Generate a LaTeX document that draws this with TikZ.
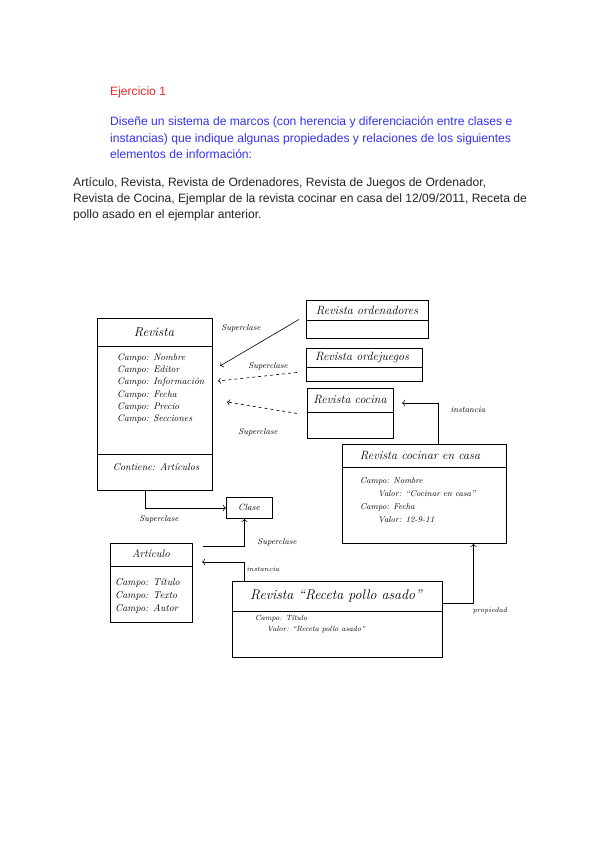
\documentclass[tikz,border=0pt]{standalone}
\usepackage{fontspec}
\newfontfamily\arialfont{Liberation Sans}
\usetikzlibrary{arrows.meta}
\definecolor{ejred}{RGB}{235,40,40}
\definecolor{ejblue}{RGB}{50,50,240}
\definecolor{ejtext}{RGB}{35,35,35}

\tikzset{
  ej/.style={font=\arialfont\fontsize{12.1}{16.2}\selectfont, inner sep=0pt},
  frame/.style={draw, line width=0.9pt, anchor=north west, inner sep=0pt},
  hw/.style 2 args={font=\itshape\fontsize{#1}{#2}\selectfont, inner sep=0pt},
  lbl/.style={font=\itshape\fontsize{8.5}{10}\selectfont, inner sep=0pt},
  conn/.style={->, line width=0.6pt},
}

\begin{document}
\begin{tikzpicture}[x=1pt,y=-1pt]
\useasboundingbox (0,0) rectangle (600,848);
% enunciado
\node[ej, text=ejred, anchor=base west] (ejercicio) at (110,95.7) {Ejercicio 1};
\node[ej, text=ejblue, anchor=north west, align=left] (enunciado) at (110,116.8)
  {Diseñe un sistema de marcos (con herencia y diferenciación entre clases e\\
   instancias) que indique algunas propiedades y relaciones de los siguientes\\
   elementos de información:};
\node[ej, text=ejtext, anchor=north west, align=left] (elementos) at (73,177.3)
  {Artículo, Revista, Revista de Ordenadores, Revista de Juegos de Ordenador,\\
   Revista de Cocina, Ejemplar de la revista cocinar en casa del 12/09/2011, Receta de\\
   pollo asado en el ejemplar anterior.};

% marcos
\node[frame, minimum width=115pt, minimum height=172pt] (revista) at (97,318) {};
\draw[line width=0.9pt] ([yshift=-28pt]revista.north west) -- ([yshift=-28pt]revista.north east);
\draw[line width=0.9pt] ([yshift=-136pt]revista.north west) -- ([yshift=-136pt]revista.north east);
\node[hw={13}{15}] (revista-t) at (154,332) {Revista};
\node[hw={9.5}{12.2}, anchor=north west, align=left] (revista-c) at (117,353.5)
  {Campo: Nombre\\Campo: Editor\\Campo: Información\\Campo: Fecha\\Campo: Precio\\Campo: Secciones};
\node[hw={10}{12}] (revista-a) at (156,467) {Contiene: Artículos};

\node[frame, minimum width=122pt, minimum height=38pt] (ord) at (306,300) {};
\draw[line width=0.9pt] ([yshift=-20pt]ord.north west) -- ([yshift=-20pt]ord.north east);
\node[hw={12}{14}] (ord-t) at (367,310.5) {Revista ordenadores};

\node[frame, minimum width=116pt, minimum height=33pt] (juegos) at (306,348) {};
\draw[line width=0.5pt] ([yshift=-19pt]juegos.north west) -- ([yshift=-19pt]juegos.north east);
\node[hw={12}{14}] (juegos-t) at (362,357.5) {Revista ordejuegos};

\node[frame, minimum width=86pt, minimum height=50pt] (cocina) at (307,388) {};
\draw[line width=0.9pt] ([yshift=-24pt]cocina.north west) -- ([yshift=-24pt]cocina.north east);
\node[hw={12}{14}] (cocina-t) at (350,400) {Revista cocina};

\node[frame, minimum width=164pt, minimum height=99pt] (casa) at (342,444) {};
\draw[line width=0.9pt] ([yshift=-23pt]casa.north west) -- ([yshift=-23pt]casa.north east);
\node[hw={12}{14}] (casa-t) at (420,456) {Revista cocinar en casa};
\node[hw={8.5}{13}, anchor=north west, align=left] (casa-c) at (360,477)
  {Campo: Nombre\\\hspace*{18pt}Valor: ``Cocinar en casa''\\Campo: Fecha\\\hspace*{18pt}Valor: 12-9-11};

\node[frame, minimum width=46pt, minimum height=21pt] (clase) at (226,497) {};
\node[hw={9}{11}] (clase-t) at (249,507.5) {Clase};

\node[frame, minimum width=82pt, minimum height=79pt] (articulo) at (110,543) {};
\draw[line width=0.9pt] ([yshift=-23pt]articulo.north west) -- ([yshift=-23pt]articulo.north east);
\node[hw={11}{13}] (articulo-t) at (151,554) {Artículo};
\node[hw={10}{13}, anchor=north west, align=left] (articulo-c) at (115,578)
  {Campo: Título\\Campo: Texto\\Campo: Autor};

\node[frame, minimum width=210pt, minimum height=76pt] (receta) at (232,581) {};
\draw[line width=0.9pt] ([yshift=-30pt]receta.north west) -- ([yshift=-30pt]receta.north east);
\node[hw={14}{16}] (receta-t) at (336,596) {Revista ``Receta pollo asado''};
\node[hw={7.5}{11}, anchor=north west, align=left] (receta-c) at (255,615)
  {Campo: Título\\\hspace*{12pt}Valor: ``Receta pollo asado''};

% relaciones
\coordinate (sup1) at (220,366);
\coordinate (sup2) at (218,381);
\coordinate (sup3) at (227,402);
\coordinate (inst1) at (402,403);
\coordinate (art-in) at (203,546);
\coordinate (inst2) at (202,562);
\draw[conn] ([xshift=-7pt]ord.west) -- (sup1);
\draw[conn, dashed] ([xshift=-9pt,yshift=-7.5pt]juegos.west) -- (sup2);
\draw[conn, dashed] ([xshift=-10pt]cocina.west) -- (sup3);
\draw[conn] ([xshift=14pt]casa.north) |- (inst1);
\draw[conn] ([xshift=-9.5pt]revista.south) |- (clase.west);
\draw[conn] (art-in) -| ([xshift=-5pt]clase.south);
\draw[conn] ([xshift=-93pt]receta.north) |- (inst2);
\draw[conn] ([yshift=16pt]receta.east) -| ([xshift=49pt]casa.south);

\node[lbl] (l-sup1) at (241,328) {Superclase};
\node[lbl] (l-sup2) at (268,366) {Superclase};
\node[lbl] (l-sup3) at (258,432) {Superclase};
\node[lbl] (l-inst1) at (468,410) {instancia};
\node[lbl] (l-sup4) at (159,519) {Superclase};
\node[lbl] (l-sup5) at (277,542) {Superclase};
\node[lbl, font=\itshape\fontsize{7}{8}\selectfont] (l-inst2) at (263,569) {instancia};
\node[lbl, font=\itshape\fontsize{7}{8}\selectfont] (l-prop) at (490,611) {propiedad};
\end{tikzpicture}
\end{document}
